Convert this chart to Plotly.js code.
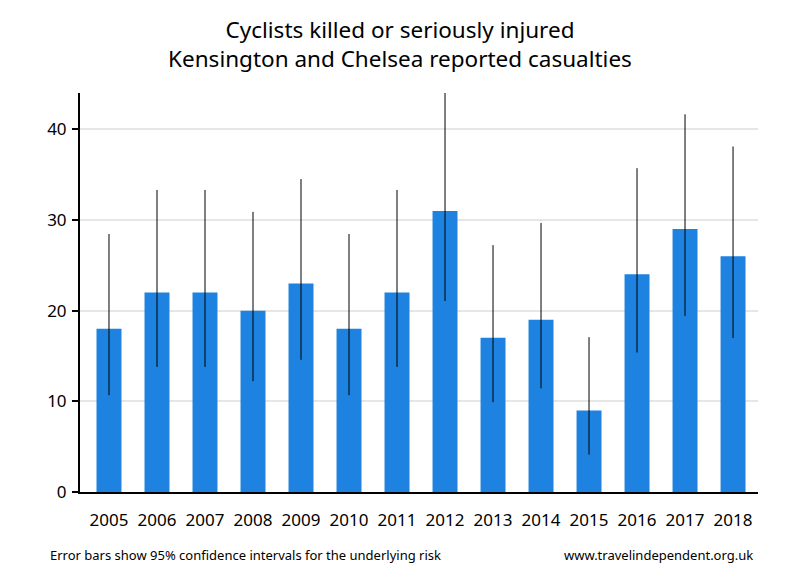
<!DOCTYPE html>
<html>
<head>
<meta charset="utf-8">
<script src="https://cdn.plot.ly/plotly-3.0.1.min.js"></script>
<style>html,body{margin:0;padding:0;background:#fff;}#chart{width:800px;height:580px;}</style>
</head>
<body>
<div id="chart"></div>
<script>
const years = ["2005","2006","2007","2008","2009","2010","2011","2012","2013","2014","2015","2016","2017","2018"];
const casualties = [18,22,22,20,23,18,22,31,17,19,9,24,29,26];
const ciLower = [10.67,13.79,13.79,12.22,14.58,10.67,13.79,21.06,9.90,11.44,4.12,15.38,19.42,16.98];
const ciUpper = [28.45,33.31,33.31,30.89,34.51,28.45,33.31,44.00,27.22,29.67,17.08,35.71,41.65,38.10];

const plus = casualties.map((v,i)=>ciUpper[i]-v);
const minus = casualties.map((v,i)=>v-ciLower[i]);
const FONT = "Noto Sans, Open Sans, sans-serif";

const trace = {
  type: "bar",
  x: years.map((_,i)=>i),
  y: casualties,
  width: 0.52,
  marker: {color: "#1e82e0"},
  error_y: {type: "data", symmetric: false, array: plus, arrayminus: minus, color: "#000", thickness: 1, width: 0},
  hoverinfo: "skip"
};

const layout = {
  width: 800, height: 580,
  margin: {l: 80, r: 42, t: 93, b: 88},
  paper_bgcolor: "#fff", plot_bgcolor: "#fff",
  showlegend: false,
  font: {family: FONT, color: "#000"},
  title: {text: "Cyclists killed or seriously injured<br>Kensington and Chelsea reported casualties", x: 0.5, xanchor: "center", yref: "container", y: 1 - 38/580, yanchor: "middle", font: {size: 22.5, color: "#000", family: FONT}},
  xaxis: {
    range: [-0.604, 13.52],
    tickmode: "array", tickvals: years.map((_,i)=>i), ticktext: years,
    ticks: "", showgrid: false, zeroline: false,
    showline: true, linecolor: "#000", linewidth: 2,
    tickfont: {size: 17, color: "#000"}, ticklabelstandoff: 12
  },
  yaxis: {
    range: [0, 44],
    tickvals: [0,10,20,30,40],
    ticks: "outside", ticklen: 6, tickwidth: 2, tickcolor: "#000",
    showline: true, linecolor: "#000", linewidth: 2,
    showgrid: true, gridcolor: "#e6e6e6", gridwidth: 2,
    zeroline: false, ticklabelstandoff: 2,
    tickfont: {size: 17, color: "#000"}
  },
  annotations: [
    {text: "Error bars show 95% confidence intervals for the underlying risk", xref: "paper", yref: "paper", x: -0.0475, y: -0.158, xanchor: "left", yanchor: "middle", showarrow: false, font: {size: 13, color: "#000"}},
    {text: "www.travelindependent.org.uk", xref: "paper", yref: "paper", x: 0.995, y: -0.158, xanchor: "right", yanchor: "middle", showarrow: false, font: {size: 13, color: "#000"}}
  ]
};

Plotly.newPlot("chart", [trace], layout, {displayModeBar: false, staticPlot: true});
</script>
</body>
</html>
